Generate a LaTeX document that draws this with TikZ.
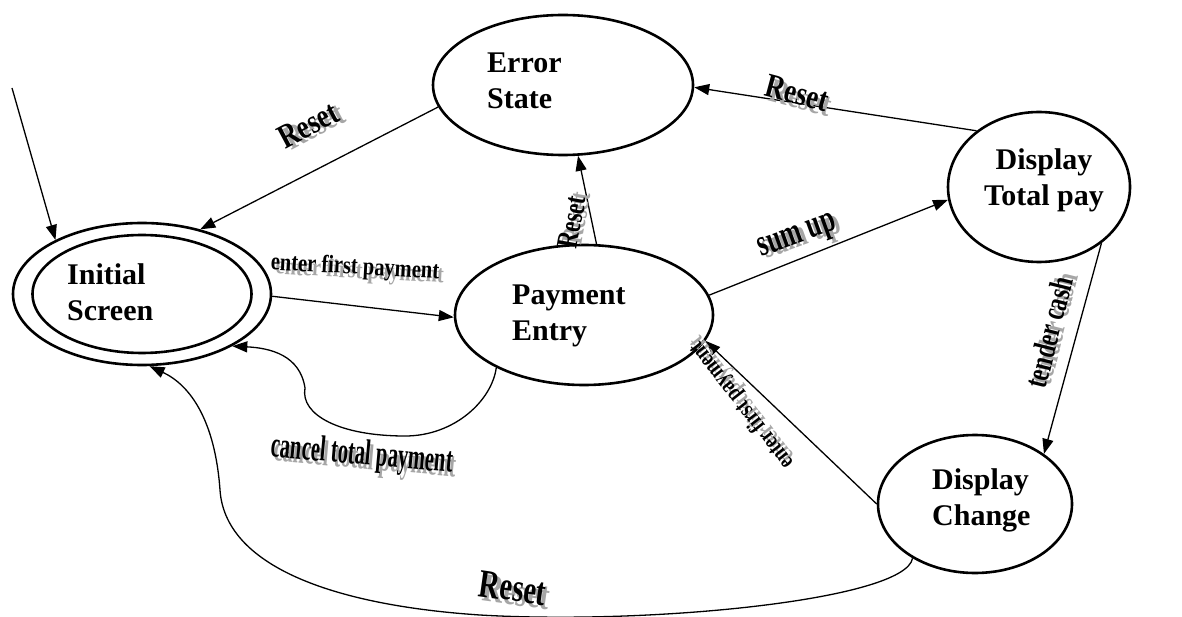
\documentclass[tikz,border=0pt]{standalone}
\usepackage{fontspec}
\setmainfont{Liberation Serif}
\usetikzlibrary{shapes.geometric,arrows.meta}
\tikzset{
  stateshape/.style={ellipse, draw, line width=2.6pt, inner sep=0pt},
  statetext/.style={font=\fontsize{30}{36}\selectfont\bfseries, align=left, inner sep=0pt},
  arr/.style={line width=1.3pt, -{Triangle[length=15pt,width=11pt]}},
  wtext/.style={inner sep=0pt, text=black},
  wshadow/.style={inner sep=0pt, text=black!35},
}
\newcommand{\wa}[7]{%
  \node[wshadow, font=\fontsize{#5}{#5}\selectfont\bfseries, rotate=#4, xscale=#6, xshift=6pt, yshift=-4pt] (#1s) at (#2,#3) {#7};
  \node[wtext, font=\fontsize{#5}{#5}\selectfont\bfseries, rotate=#4, xscale=#6] (#1) at (#2,#3) {#7};}
\begin{document}
\begin{tikzpicture}[x=1pt,y=-1pt]
\useasboundingbox (0,0) rectangle (1182,617);
% states
\node[stateshape, minimum width=258pt, minimum height=142pt] (init) at (142,294) {};
\node[stateshape, minimum width=219pt, minimum height=118pt] (initIn) at (142,294) {};
\node[stateshape, minimum width=260pt, minimum height=140pt] (err) at (563,85) {};
\node[stateshape, minimum width=258pt, minimum height=140pt] (pay) at (584,315) {};
\node[stateshape, minimum width=182pt, minimum height=150pt] (tot) at (1039,187) {};
\node[stateshape, minimum width=194pt, minimum height=138pt] (chg) at (975,504) {};
% state texts
\node[statetext, anchor=west] (initT) at (67,292) {Initial\\Screen};
\node[statetext, anchor=west] (errT) at (487,81) {Error\\State};
\node[statetext, anchor=west] (payT) at (512,316) {Payment\\Entry};
\node[statetext, align=center] (totT) at (1044,180) {Display\\Total pay};
\node[statetext, anchor=west] (chgT) at (932,500) {Display\\Change};
% connectors
\coordinate (start) at (12,88);
\draw[arr] (start) -- (init.148);
\draw[arr] (err.190) -- (init.48);
\draw[arr] (pay.80) -- (err.282);
\draw[arr] (init.359) -- (pay.181);
\draw[arr] (pay.9) -- (tot.188);
\draw[arr] (tot.138) -- (err.359);
\draw[arr] (tot.318) -- (chg.36);
\draw[arr] (chg.180) -- (pay.-12);
\draw[arr] (pay.211) .. controls (492,400) and (455,436) .. (405,436)
  .. controls (340,436) and (300,415) .. (305,388)
  .. controls (300,355) and (270,348) .. (init.330);
\draw[arr] (chg.221) .. controls (905,600) and (650,625) .. (480,615)
  .. controls (330,605) and (225,565) .. (220,490)
  .. controls (215,420) and (190,385) .. (init.276);
% labels
\wa{lResetA}{308}{125}{28}{34}{0.8}{Reset}
\wa{lEnter}{355}{268}{-3}{25}{0.82}{enter first payment}
\wa{lResetB}{572}{222}{80}{30}{0.75}{Reset}
\wa{lSum}{798}{238}{20}{38}{0.68}{sum up}
\wa{lResetC}{797}{93}{-15}{34}{0.8}{Reset}
\wa{lTender}{1049}{332}{76}{32}{0.72}{tender cash}
\wa{lEnterB}{742}{405}{128}{24}{0.78}{enter first payment}
\wa{lCancel}{362}{456}{-5}{36}{0.575}{cancel total payment}
\wa{lResetD}{513}{588}{-8}{40}{0.72}{Reset}
\end{tikzpicture}
\end{document}
